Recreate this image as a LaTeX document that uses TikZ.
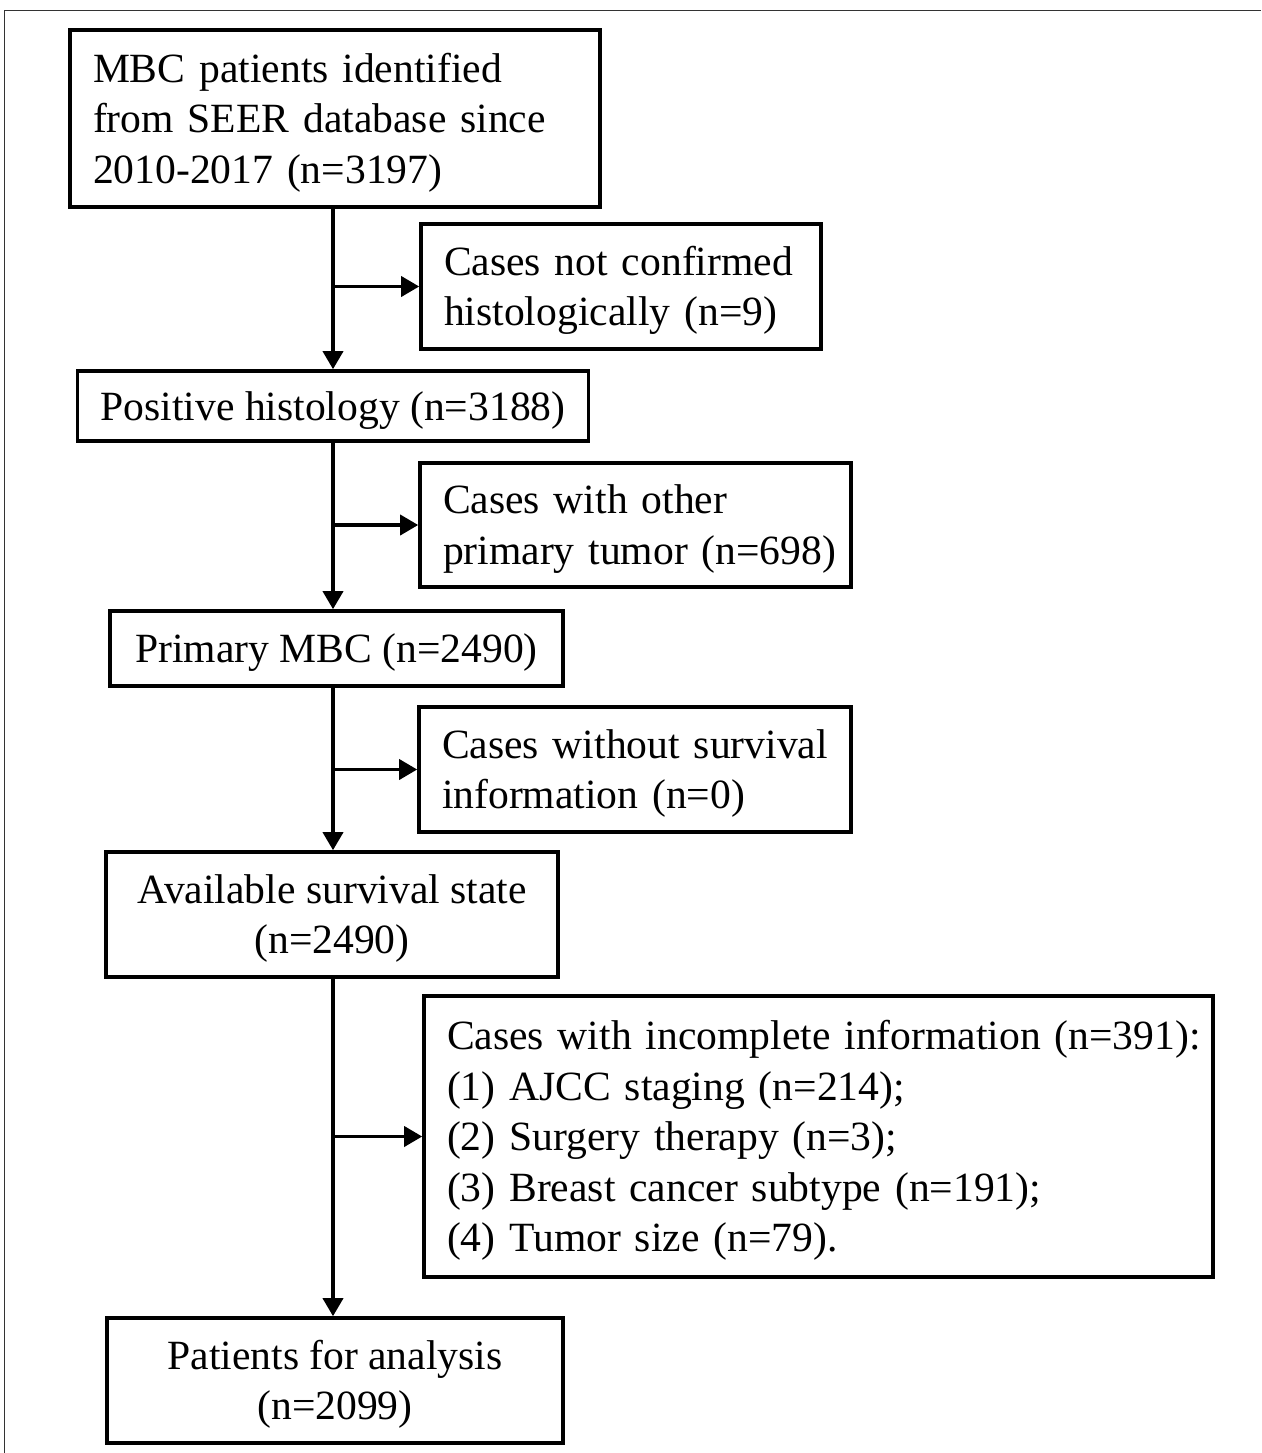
\documentclass[tikz,border=0pt]{standalone}
\usepackage{fontspec}
\setmainfont{Liberation Serif}
\usetikzlibrary{arrows.meta}
\newcommand\tup{\rule{0pt}{37pt}}
\begin{document}
\begin{tikzpicture}[x=1pt,y=-1pt,
  box/.style={draw, line width=3.6pt, inner xsep=23pt, inner ysep=0pt,
    font=\fontsize{41.6}{50.5}\selectfont},
  lbox/.style={box, align=left},
  cbox/.style={box, align=center},
  arr/.style={line width=3.6pt, -{Triangle[length=18pt,width=20pt]}}]
\useasboundingbox (0,0) rectangle (1261,1453);
\draw[line width=1pt, black!80] (4,1453) -- (4,11) -- (1261,11);

\node[lbox, minimum width=530pt, minimum height=177pt, text width=484pt] (B1) at (335,118.5)
  {\tup\mbox{MBC patients identified}\\\mbox{from SEER database since}\\\mbox{2010-2017 (n=3197)}};
\node[lbox, minimum width=400pt, minimum height=125pt, text width=354pt] (B2) at (621,286.5)
  {\tup\mbox{Cases not confirmed}\\\mbox{histologically (n=9)}};
\node[cbox, minimum width=510pt, minimum height=70pt] (B3) at (333,406)
  {\tup Positive histology (n=3188)};
\node[lbox, minimum width=431pt, minimum height=124pt, text width=385pt] (B4) at (635.5,525)
  {\tup\mbox{Cases with other}\\\mbox{primary tumor (n=698)}};
\node[cbox, minimum width=453pt, minimum height=75pt] (B5) at (336.5,648.5)
  {\tup Primary MBC (n=2490)};
\node[lbox, minimum width=432pt, minimum height=125pt, text width=386pt] (B6) at (635,769.5)
  {\tup\mbox{Cases without survival}\\\mbox{information (n=0)}};
\node[cbox, minimum width=452pt, minimum height=125pt] (B7) at (332,914.5)
  {\tup Available survival state\\(n=2490)};
\node[lbox, minimum width=789pt, minimum height=281pt, text width=743pt] (B8) at (818.5,1136.5)
  {\tup\mbox{Cases with incomplete information (n=391):}\\\mbox{(1) AJCC staging (n=214);}\\\mbox{(2) Surgery therapy (n=3);}\\\mbox{(3) Breast cancer subtype (n=191);}\\\mbox{(4) Tumor size (n=79).}};
\node[cbox, minimum width=456pt, minimum height=125pt] (B9) at (335,1380.5)
  {\tup Patients for analysis\\(n=2099)};

\coordinate (sp) at (333,0);
\draw[arr] (sp |- B1.south) -- (sp |- B3.north);
\draw[arr] (sp |- B3.south) -- (sp |- B5.north);
\draw[arr] (sp |- B5.south) -- (sp |- B7.north);
\draw[arr] (sp |- B7.south) -- (sp |- B9.north);
\draw[arr] (sp |- B2.west) -- (B2.west);
\draw[arr] (sp |- B4.west) -- (B4.west);
\draw[arr] (sp |- B6.west) -- (B6.west);
\draw[arr] (sp |- B8.west) -- (B8.west);
\end{tikzpicture}
\end{document}
